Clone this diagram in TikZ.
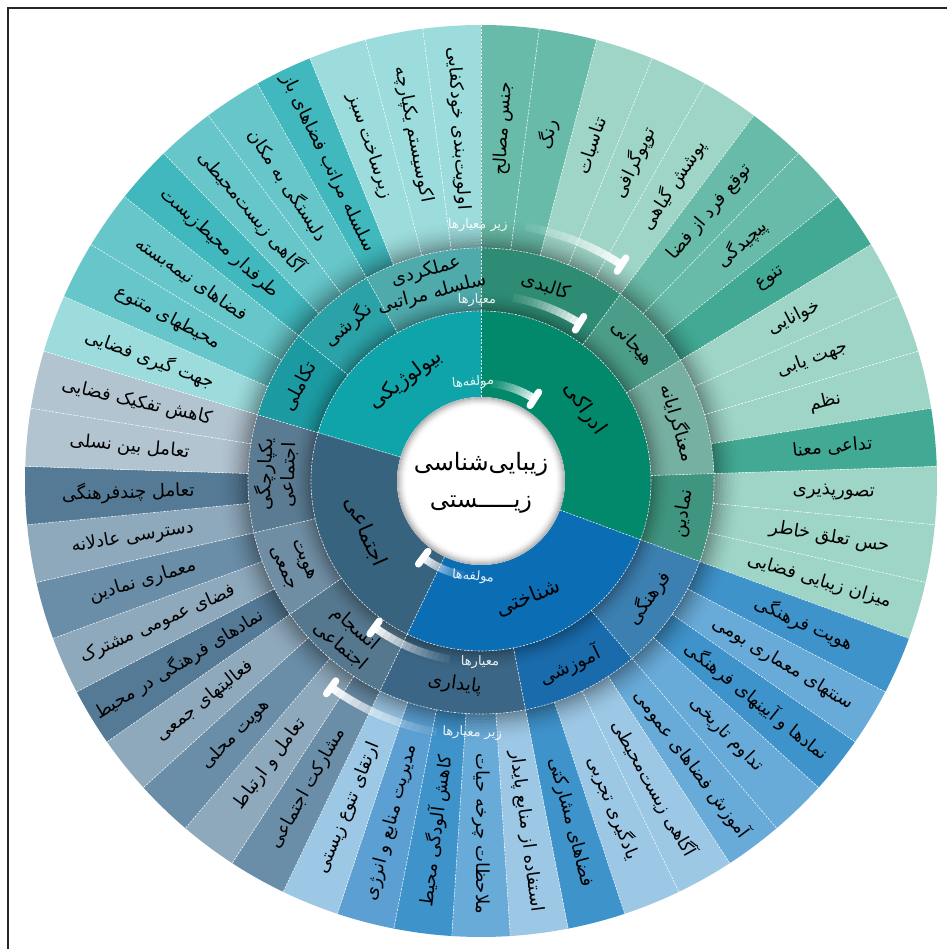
\documentclass[tikz,border=0pt]{standalone}
\usepackage{fontspec}
\newfontfamily\faFont[Script=Arabic]{DejaVu Sans}
\TeXXeTstate=1
\newcommand\rl[1]{\beginR#1\endR}
\pgfdeclarelayer{bg}
\pgfdeclarelayer{shd}
\pgfsetlayers{bg,shd,main}
\definecolor{gA}{HTML}{68BBA8}
\definecolor{gB}{HTML}{9ED5C7}
\definecolor{gC}{HTML}{42AA94}
\definecolor{bA}{HTML}{3F93CB}
\definecolor{bB}{HTML}{68AAD8}
\definecolor{bC}{HTML}{9CC8E6}
\definecolor{bD}{HTML}{5C9FD2}
\definecolor{sA}{HTML}{6A8EA8}
\definecolor{sB}{HTML}{8EA9BC}
\definecolor{sC}{HTML}{557A96}
\definecolor{sD}{HTML}{B3C4D1}
\definecolor{tA}{HTML}{9DDCDC}
\definecolor{tB}{HTML}{66C6C9}
\definecolor{tC}{HTML}{40B8BD}
\definecolor{mA}{HTML}{2E8C75}
\definecolor{mB}{HTML}{4B9D89}
\definecolor{mC}{HTML}{76B0A2}
\definecolor{mD}{HTML}{3F9580}
\definecolor{mE}{HTML}{3C80B1}
\definecolor{mF}{HTML}{1A6BAC}
\definecolor{mG}{HTML}{3B6685}
\definecolor{mH}{HTML}{56788F}
\definecolor{mI}{HTML}{6F8DA3}
\definecolor{mJ}{HTML}{5A7B92}
\definecolor{mK}{HTML}{1C9AA1}
\definecolor{mL}{HTML}{2BA2A7}
\definecolor{mM}{HTML}{4FAAAC}
\definecolor{iA}{HTML}{02896C}
\definecolor{iB}{HTML}{0B6DB4}
\definecolor{iC}{HTML}{37637F}
\definecolor{iD}{HTML}{0FA4AA}
\newcommand\swoosh[4]{% name, radius, faint angle, cap angle
  \foreach \j in {0,...,13}{
    \pgfmathsetmacro\sa{#3+(#4-#3)*\j/14}
    \pgfmathsetmacro\sb{#3+(#4-#3)*(\j+1)/14}
    \pgfmathsetmacro\sop{0.08+0.87*(\j/13)^1.3}
    \draw[white, opacity=\sop, line width=8pt] (\sa:#2) arc[start angle=\sa, end angle=\sb, radius=#2];
  }
  \draw[white, line width=7pt, line cap=round] (#4:#2-8) -- (#4:#2+8);
  \coordinate (#1) at (#4:#2);
}
\begin{document}
\begin{tikzpicture}[x=1pt,y=1pt,
  olab/.style={font=\faFont\fontsize{18}{21}\selectfont, text=black, inner sep=0pt},
  mlab/.style={font=\faFont\fontsize{18.5}{23}\selectfont, text=black, align=center, inner sep=0pt},
  ilab/.style={font=\faFont\fontsize{21}{24}\selectfont, text=black, inner sep=0pt},
  sep/.style={white, line width=0.6pt, dash pattern=on 2pt off 1.5pt, opacity=0.85},
  tag/.style={font=\faFont\fontsize{13}{15}\selectfont, text=white, inner sep=0pt, opacity=0.9},
]
\useasboundingbox (-481,-468) rectangle (466,481);
\def\d{7.3469387755}
% ---------------- outer ring ----------------
\foreach \c/\t [count=\n from 0] in {
 gA/جنس مصالح, gA/رنگ, gB/تناسبات, gB/توپوگرافی, gB/پوشش گیاهی,
 gA/توقع فرد از فضا, gA/پیچیدگی, gC/تنوع, gB/خوانایی, gB/جهت یابی,
 gB/نظم, gC/تداعی معنا, gB/تصورپذیری, gB/حس تعلق خاطر, gB/میزان زیبایی فضایی,
 bA/هویت فرهنگی, bB/سنتهای معماری بومی, bA/نمادها و آیینهای فرهنگی, bB/تداوم تاریخی, bB/آموزش فضاهای عمومی,
 bC/آگاهی زیست‌محیطی, bC/یادگیری تجربی, bA/فضاهای مشارکتی, bC/استفاده از منابع پایدار, bB/ملاحظات چرخه حیات,
 bA/کاهش آلودگی محیط, bD/مدیریت منابع و انرژی, bC/ارتقای تنوع زیستی,
 sA/مشارکت اجتماعی, sB/تعامل و ارتباط, sA/هویت محلی, sB/فعالیتهای جمعی, sC/نمادهای فرهنگی در محیط,
 sB/فضای عمومی مشترک, sA/معماری نمادین, sB/دسترسی عادلانه, sC/تعامل چندفرهنگی, sD/تعامل بین نسلی, sD/کاهش تفکیک فضایی,
 tA/جهت گیری فضایی, tB/محیطهای متنوع, tB/فضاهای نیمه‌بسته, tC/طرفدار محیط‌زیست, tB/آگاهی زیست‌محیطی,
 tB/دلبستگی به مکان, tC/سلسله مراتب فضاهای باز, tA/زیرساخت سبز, tA/اکوسیستم یکپارچه, tA/اولویت‌بندی خودکفایی}
{
  \pgfmathsetmacro\aa{90-\n*\d}
  \pgfmathsetmacro\ab{90-(\n+1)*\d}
  \pgfmathsetmacro\am{90-(\n+0.5)*\d}
  \pgfmathsetmacro\rot{cos(\am)>-0.01 ? \am : \am+180}
  \begin{pgfonlayer}{bg}
    \fill[\c] (\aa:233) -- (\aa:456) arc[start angle=\aa, end angle=\ab, radius=456] -- (\ab:233) arc[start angle=\ab, end angle=\aa, radius=233] -- cycle;
  \end{pgfonlayer}
  \draw[sep] (\aa:233) -- (\aa:456);
  \node[olab, rotate=\rot] (o\n) at (\am:353) {\rl{\t}};
}
% ---------------- middle ring ----------------
\foreach \s/\e/\c/\t [count=\n] in {
 0/5/mA/{\rl{کالبدی}}, 5/8/mB/{\rl{هیجانی}}, 8/12/mC/{\rl{معناگرایانه}}, 12/15/mD/{\rl{نمادین}},
 15/19/mE/{\rl{فرهنگی}}, 19/23/mF/{\rl{آموزشی}}, 23/28/mG/{\rl{پایداری}},
 28/32/mH/{\rl{انسجام}\\\rl{اجتماعی}}, 32/35/mI/{\rl{هویت}\\\rl{جمعی}}, 35/39/mJ/{\rl{یکپارچگی}\\\rl{اجتماعی}},
 39/42/mK/{\rl{تکاملی}}, 42/45/mL/{\rl{نگرشی}}, 45/49/mM/{\rl{عملکردی}\\\rl{سلسله مراتبی}}}
{
  \pgfmathsetmacro\aa{90-\s*\d}
  \pgfmathsetmacro\ab{90-\e*\d}
  \pgfmathsetmacro\am{90-(\s+\e)/2*\d}
  \pgfmathsetmacro\rot{sin(\am)>0 ? \am-90 : \am+90}
  \begin{pgfonlayer}{bg}
    \fill[\c] (\aa:170) -- (\aa:233) arc[start angle=\aa, end angle=\ab, radius=233] -- (\ab:170) arc[start angle=\ab, end angle=\aa, radius=170] -- cycle;
  \end{pgfonlayer}
  \draw[sep] (\aa:170) -- (\aa:233);
  \node[mlab, rotate=\rot] (m\n) at (\am:205) {\t};
}
% ---------------- inner ring ----------------
\foreach \s/\e/\c/\t [count=\n] in {
 0/15/iA/ادراکی, 15/28/iB/شناختی, 28/39/iC/اجتماعی, 39/49/iD/بیولوژیکی}
{
  \pgfmathsetmacro\aa{90-\s*\d}
  \pgfmathsetmacro\ab{90-\e*\d}
  \pgfmathsetmacro\am{90-(\s+\e)/2*\d}
  \pgfmathsetmacro\rot{sin(\am)>0 ? \am-90 : \am+90}
  \begin{pgfonlayer}{bg}
    \fill[\c] (\aa:84) -- (\aa:170) arc[start angle=\aa, end angle=\ab, radius=170] -- (\ab:84) arc[start angle=\ab, end angle=\aa, radius=84] -- cycle;
  \end{pgfonlayer}
  \draw[sep] (\aa:84) -- (\aa:170);
  \node[ilab, rotate=\rot] (i\n) at (\am:126) {\rl{\t}};
}
% ---------------- centre ----------------
\begin{pgfonlayer}{bg}
  \fill[white] (0,0) circle[radius=84];
\end{pgfonlayer}
% ---------------- shadows ----------------
\begin{pgfonlayer}{shd}
  \foreach \i in {0,...,19}{
    \pgfmathsetmacro\op{0.32*(1-\i/20)^2}
    \draw[black, opacity=\op, line width=1.5pt] (0,0) circle[radius=233.75+\i*1.5];
  }
  \foreach \i in {0,...,13}{
    \pgfmathsetmacro\op{0.28*(1-\i/14)^2}
    \draw[black, opacity=\op, line width=1.5pt] (0,0) circle[radius=170.75+\i*1.5];
  }
  \foreach \i in {0,...,9}{
    \pgfmathsetmacro\op{0.28*(1-\i/10)^2}
    \draw[black, opacity=\op, line width=1pt] (0,0) circle[radius=83.5-\i*1];
  }
\end{pgfonlayer}
\draw[sep] (0,0) circle[radius=170];
\draw[sep] (0,0) circle[radius=233];
% ---------------- swooshes and tags ----------------
\swoosh{sw1}{98}{84}{57}
\swoosh{sw2}{186}{80}{58}
\swoosh{sw3}{258}{80}{57}
\swoosh{sw4}{96}{-100}{-127}
\swoosh{sw5}{181}{-100}{-126}
\swoosh{sw6}{255}{-100}{-126}
\node[tag, rotate=4.6] (t1) at (94.6:99) {\rl{مولفه‌ها}};
\node[tag, rotate=1.3] (t2) at (91.3:181) {\rl{معیارها}};
\node[tag, rotate=0.7] (t3) at (90.7:256) {\rl{زیر معیارها}};
\node[tag, rotate=-4.8] (t4) at (-94.8:96) {\rl{مولفه‌ها}};
\node[tag, rotate=-0.3] (t5) at (-90.3:181) {\rl{معیارها}};
\node[tag, rotate=-2] (t6) at (-92:252) {\rl{زیر معیارها}};
% ---------------- centre text ----------------
\node[font=\faFont\fontsize{24}{37}\selectfont, align=center, inner sep=0pt] (centre) at (0,-2) {\rl{زیبایی‌شناسی}\\\rl{زیـــــستی}};
% ---------------- frame ----------------
\draw[line width=2pt, black!85] (-472.5,-468) -- (-472.5,473) -- (466,473);
\end{tikzpicture}
\end{document}
